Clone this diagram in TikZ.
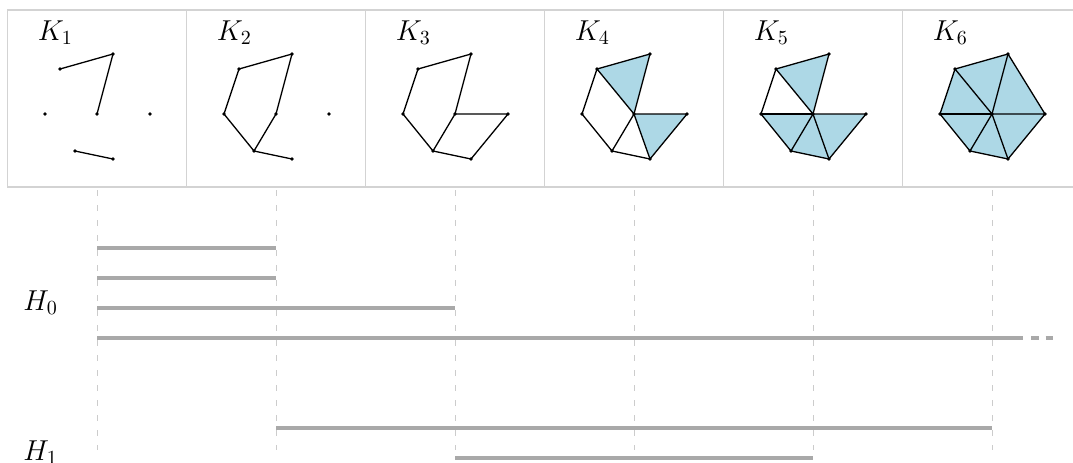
\documentclass[tikz,border=0pt]{standalone}
\usepackage{amsmath}
\usepackage{tikz}
\usetikzlibrary{
  calc
}
\definecolor{ink}{HTML}{000000}
\definecolor{frame}{HTML}{D3D3D3}
\definecolor{guide}{HTML}{CCCCCC}
\definecolor{barcol}{HTML}{A9A9A9}
\definecolor{simplex}{HTML}{ADD8E6}
\tikzset{
  panel/.style={
    draw=frame,
    line width=0.75pt,
    minimum width=89.5pt,
    minimum height=88.5pt,
    inner sep=0pt,
    outer sep=0pt
  },
  complabel/.style={
    anchor=base west,
    inner sep=0pt,
    font=\fontsize{13.8pt}{16pt}\selectfont
  },
  edge/.style={
    draw=ink,
    line width=0.65pt,
    line join=round
  },
  tri/.style={
    fill=simplex
  },
  stage/.style={
    draw=guide,
    line width=0.5pt,
    dash pattern=on 3pt off 4.5pt
  },
  bar/.style={
    draw=barcol,
    line width=2pt
  },
  tail/.style={
    dash pattern=on 0pt off 4pt on 3.75pt off 3.5pt on 3.75pt
  }
}

\begin{document}
\begin{tikzpicture}[x=0.5pt, y=-0.5pt]
  \useasboundingbox (0,0) rectangle (1073,462);

  % the six complexes K_1 ... K_6
  \foreach \i in {1,...,6}{
    \pgfmathsetmacro{\cx}{97+179*(\i-1)}
    \node[panel] (P\i) at (\cx,98.5) {};
    \node[complabel] (K\i) at ($(P\i.north west)+(30,30)$) {$K_{\i}$};
    \coordinate (s\i) at (\cx,190);
    \begin{scope}[shift={(\cx,114)}]
      \coordinate (A\i) at (-37,-45);
      \coordinate (B\i) at (16,-60);
      \coordinate (C\i) at (-52,0);
      \coordinate (O\i) at (0,0);
      \coordinate (D\i) at (53,0);
      \coordinate (E\i) at (-22,37);
      \coordinate (F\i) at (16,45);
    \end{scope}
  }

  % filled triangles
  \fill[tri] (A4) -- (B4) -- (O4) -- cycle;
  \fill[tri] (O4) -- (D4) -- (F4) -- cycle;
  \fill[tri] (A5) -- (B5) -- (O5) -- cycle;
  \fill[tri] (O5) -- (D5) -- (F5) -- cycle;
  \fill[tri] (C5) -- (E5) -- (O5) -- cycle;
  \fill[tri] (E5) -- (F5) -- (O5) -- cycle;
  \fill[tri] (A6) -- (B6) -- (D6) -- (F6) -- (E6) -- (C6) -- cycle;

  % K1
  \draw[edge] (A1) -- (B1) -- (O1);
  \draw[edge] (E1) -- (F1);
  % K2
  \draw[edge] (O2) -- (B2) -- (A2) -- (C2) -- (E2) -- (O2);
  \draw[edge] (E2) -- (F2);
  % K3 .. K6
  \foreach \i in {3,...,6}{
    \draw[edge] (O\i) -- (B\i) -- (A\i) -- (C\i) -- (E\i) -- (O\i);
    \draw[edge] (E\i) -- (F\i) -- (D\i) -- (O\i);
  }
  \foreach \i in {4,5,6}{
    \draw[edge] (A\i) -- (O\i) -- (F\i);
  }
  \draw[edge] (C5) -- (O5);
  \draw[edge] (C6) -- (O6);
  \draw[edge] (B6) -- (D6);

  % vertices
  \foreach \i in {1,...,6}
    \foreach \v in {A,B,C,O,D,E,F}
      \fill[ink] (\v\i) circle (0.9pt);

  % barcode
  \coordinate (r1) at (0,248);
  \coordinate (r2) at (0,278);
  \coordinate (r3) at (0,308);
  \coordinate (r4) at (0,338);
  \coordinate (r5) at (0,428);
  \coordinate (r6) at (0,458);
  \coordinate (bottom) at (0,450);
  \coordinate (inf) at (1023,338);
  \coordinate (far) at (1053,338);

  \foreach \i in {1,...,6}
    \draw[stage] (s\i) -- (s\i |- bottom);

  \draw[bar] (s1 |- r1) -- (s2 |- r1);
  \draw[bar] (s1 |- r2) -- (s2 |- r2);
  \draw[bar] (s1 |- r3) -- (s3 |- r3);
  \draw[bar] (s1 |- r4) -- (inf);
  \draw[bar, tail] (inf) -- (far);
  \draw[bar] (s2 |- r5) -- (s6 |- r5);
  \draw[bar] (s3 |- r6) -- (s5 |- r6);

  \node[complabel] (H0) at (23,310) {$H_0$};
  \node[complabel] (H1) at (23,460) {$H_1$};
\end{tikzpicture}
\end{document}
